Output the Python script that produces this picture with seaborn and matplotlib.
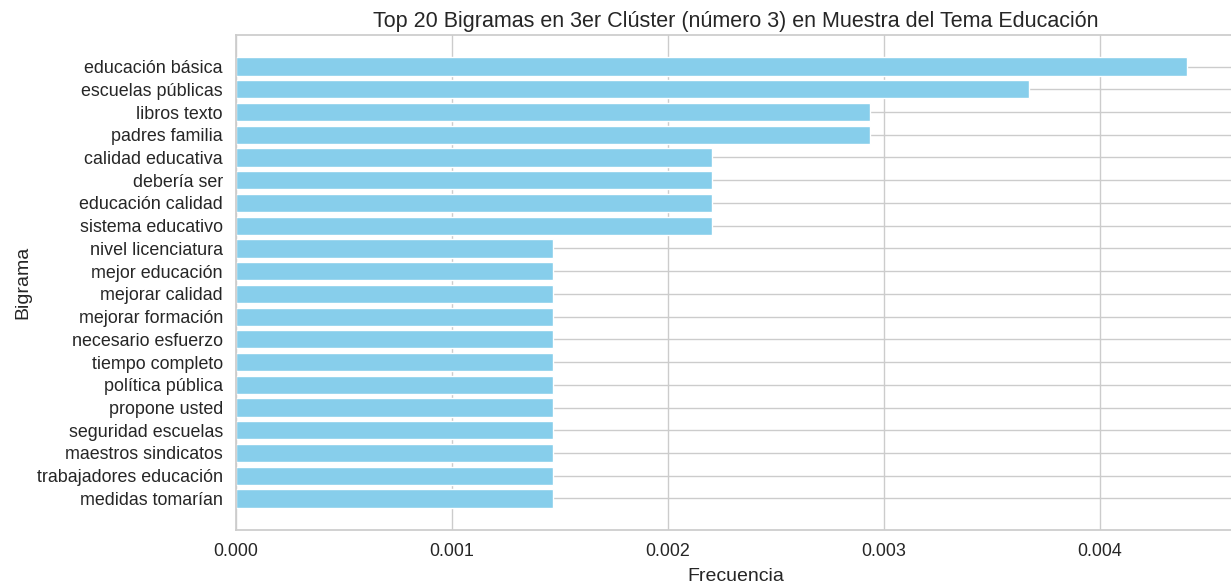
import matplotlib
matplotlib.use("Agg")
from matplotlib import pyplot as plt
import pandas as pd
import seaborn as sns

# top 20 bigramas, ordered from most to least frequent
bigramas = ["educación básica", "escuelas públicas", "libros texto", "padres familia",
            "calidad educativa", "debería ser", "educación calidad", "sistema educativo",
            "nivel licenciatura", "mejor educación", "mejorar calidad", "mejorar formación",
            "necesario esfuerzo", "tiempo completo", "política pública", "propone usted",
            "seguridad escuelas", "maestros sindicatos", "trabajadores educación",
            "medidas tomarían"]
frecuencias = [0.004405, 0.003671, 0.002937, 0.002937,
               0.002203, 0.002203, 0.002203, 0.002203,
               0.001468, 0.001468, 0.001468, 0.001468,
               0.001468, 0.001468, 0.001468, 0.001468,
               0.001468, 0.001468, 0.001468, 0.001468]

df = pd.DataFrame({"Bigrama": bigramas, "Frecuencia": frecuencias})

sns.set_theme(style="whitegrid")
plt.rcParams['font.family'] = ['Liberation Sans', 'DejaVu Sans']

fig = plt.figure(figsize=(12.31, 5.88), dpi=100)
ax = fig.add_axes([0.1917, 0.0986, 0.8113, 0.8419])

sns.barplot(data=df, x="Frecuencia", y="Bigrama", orient="h", color="skyblue",
            saturation=1, width=0.8, ax=ax)

#matplotlib-like margins around the bars
n = len(bigramas)
ax.set_ylim(n - 1 + 0.4 + 0.99, -0.4 - 0.99)
ax.set_xlim(0, 0.004624)
ax.set_xticks([0.0, 0.001, 0.002, 0.003, 0.004])
ax.set_xticklabels(["0.000", "0.001", "0.002", "0.003", "0.004"])
ax.tick_params(labelsize=12.9)
ax.tick_params(axis="x", pad=3)
ax.set_xlabel("Frecuencia", fontsize=14, labelpad=6)
ax.set_ylabel("Bigrama", fontsize=14)
ax.set_title("Top 20 Bigramas en 3er Clúster (número 3) en Muestra del Tema Educación",
             fontsize=15.5, pad=6)
ax.grid(True, axis="both")
ax.set_axisbelow(True)

fig.savefig("out.png", dpi=100)
